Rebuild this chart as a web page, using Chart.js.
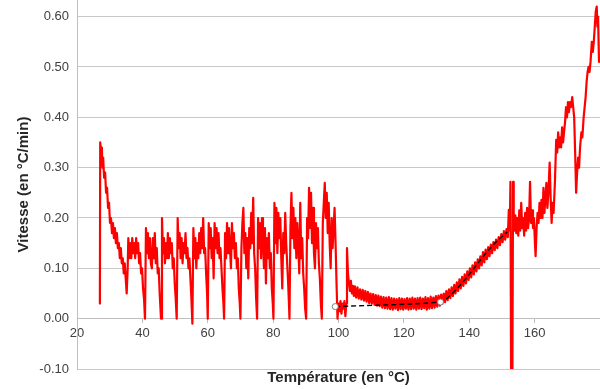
<!DOCTYPE html>
<html>
<head>
<meta charset="utf-8">
<script src="https://cdn.jsdelivr.net/npm/chart.js@4.4.1/dist/chart.umd.min.js"></script>
<style>
  body { margin: 0; background: #fff; }
  #wrap { width: 600px; height: 389px; }
</style>
</head>
<body>
<div id="wrap"><canvas id="chartVitesse"></canvas></div>
<script>
// graduations
const ticksTemp = [20, 40, 60, 80, 100, 120, 140, 160];
const ticksVitesse = [-0.1, 0, 0.1, 0.2, 0.3, 0.4, 0.5, 0.6];

const temperature = [
  27.0, 27.1, 27.4, 27.6, 27.8, 28.0, 28.3, 28.6, 28.9, 29.2, 29.5, 29.8,
  30.1, 30.4, 30.7, 31.0, 31.3, 31.6, 31.9, 32.2, 32.5, 32.8, 33.1, 33.4,
  33.7, 34.0, 34.3, 34.6, 34.9, 35.2, 35.5, 35.7, 36.0, 36.3, 36.6, 36.9,
  37.2, 37.5, 37.8, 38.1, 38.4, 38.7, 39.0, 39.3, 39.6, 39.9, 40.2, 40.5,
  40.8, 41.1, 41.4, 41.7, 42.0, 42.3, 42.6, 42.9, 43.2, 43.5, 43.8, 44.1, 44.4, 44.7, 45.0, 45.3,
  45.7, 46.0, 46.3, 46.6, 46.9, 47.2, 47.5, 47.8, 48.1, 48.4, 48.7, 49.0, 49.3, 49.6, 49.9, 50.2,
  50.5, 50.8, 51.1, 51.4, 51.7, 52.0, 52.3, 52.6, 52.9, 53.2, 53.5, 53.8, 54.1, 54.4, 54.7, 55.0,
  55.3, 55.6, 55.9, 56.2, 56.5, 56.8, 57.1, 57.4, 57.7, 58.0, 58.3, 58.6, 58.9, 59.2, 59.5, 59.8,
  60.0, 60.3, 60.6, 60.9, 61.2, 61.5, 61.8, 62.1, 62.4, 62.7, 63.0, 63.3, 63.6, 63.9, 64.2, 64.5, 64.8,
  65.0, 65.3, 65.6, 65.9, 66.2, 66.5, 66.8, 67.1, 67.4, 67.7, 68.0, 68.3, 68.6, 68.9, 69.2, 69.5, 69.8,
  70.0, 70.3, 70.6, 70.9, 71.2, 71.5, 71.8, 72.1, 72.4, 72.7, 73.0, 73.3, 73.6, 73.9, 74.2, 74.5, 74.8,
  75.1, 75.4, 75.7, 76.0, 76.3, 76.6, 76.9, 77.2, 77.5, 77.8, 78.1, 78.4, 78.7, 79.0, 79.3, 79.6, 79.9,
  80.1, 80.4, 80.7, 81.0, 81.3, 81.6, 81.9, 82.2, 82.5, 82.8, 83.1, 83.4, 83.7, 84.0, 84.3, 84.6, 84.9,
  85.0, 85.3, 85.6, 85.9, 86.2, 86.5, 86.8, 87.1, 87.4, 87.7, 88.0, 88.3, 88.6, 88.9, 89.2, 89.5, 89.8,
  90.1, 90.4, 90.7, 91.0, 91.3, 91.6, 91.9, 92.2, 92.5, 92.8, 93.1, 93.4, 93.7, 94.0, 94.3, 94.6,
  94.9, 95.2, 95.5, 95.8, 96.1, 96.4, 96.7, 97.0, 97.3, 97.6, 97.9, 98.2, 98.5, 98.8, 99.1, 99.4,
  99.7, 100.0, 100.3, 100.6, 100.9, 101.2, 101.5, 101.8, 102.1, 102.4, 102.6, 102.9, 103.2, 103.5, 103.8, 104.1, 104.4, 104.7,
  105.0, 105.4, 105.8, 106.2, 106.6, 107.0, 107.4, 107.8, 108.2, 108.6,
  109.0, 109.4, 109.8, 110.2, 110.6, 111.0, 111.4, 111.8, 112.2, 112.6,
  113.0, 113.4, 113.8, 114.2, 114.6, 115.0, 115.4, 115.8, 116.2, 116.6,
  117.0, 117.4, 117.8, 118.2, 118.6, 119.0, 119.4, 119.8, 120.2, 120.6,
  121.0, 121.4, 121.8, 122.2, 122.6, 123.0, 123.4, 123.8, 124.2, 124.6,
  125.0, 125.4, 125.8, 126.2, 126.6, 127.0, 127.4, 127.8, 128.2, 128.6,
  129.0, 129.4, 129.8, 130.2, 130.6, 131.0, 131.4, 131.8, 132.2, 132.6,
  133.0, 133.4, 133.8, 134.2, 134.6, 135.0, 135.4, 135.8, 136.2, 136.6,
  137.0, 137.4, 137.8, 138.2, 138.6, 139.0, 139.4, 139.8, 140.2, 140.6,
  141.0, 141.4, 141.8, 142.2, 142.6, 143.0, 143.4, 143.8, 144.2, 144.6,
  145.0, 145.4, 145.8, 146.2, 146.6, 147.0, 147.4, 147.8, 148.2, 148.6,
  149.0, 149.4, 149.8, 150.2, 150.6, 151.0, 151.4, 151.8,
  152.1, 152.4, 152.6, 152.8, 153.2, 153.4, 153.6, 153.8, 154.1, 154.4,
  154.7, 155.0, 155.3, 155.6, 155.9, 156.2, 156.5, 156.8, 157.1, 157.4,
  157.7, 158.0, 158.3, 158.6, 158.9, 159.2, 159.5, 159.8, 160.1, 160.3,
  160.6, 160.9, 161.2, 161.5, 161.8, 162.1, 162.4, 162.7, 163.0, 163.3,
  163.6, 163.9, 164.2, 164.6, 164.9, 165.2, 165.5, 165.8, 166.2, 166.6,
  166.9, 167.2, 167.5, 167.8, 168.1, 168.4, 168.7, 169.0, 169.3, 169.6,
  169.9, 170.2, 170.5, 170.8, 171.1, 171.5, 171.8, 172.1, 172.4, 172.7,
  173.0, 173.3, 173.6, 173.9, 174.3, 174.6, 175.0, 175.3, 175.6, 175.9,
  176.2, 176.5, 176.8, 177.1, 177.5, 177.8, 178.1, 178.4, 178.7, 179.0,
  179.2, 179.4, 179.7
];
const vitesse = [
  0.03, 0.35, 0.33, 0.34, 0.30, 0.32, 0.28, 0.29, 0.25, 0.26, 0.22, 0.23,
  0.19, 0.20, 0.17, 0.19, 0.16, 0.18, 0.15, 0.17, 0.14, 0.15, 0.12, 0.14,
  0.11, 0.12, 0.09, 0.11, 0.08, 0.05, 0.10, 0.16, 0.12, 0.15, 0.12, 0.16,
  0.13, 0.15, 0.12, 0.16, 0.13, 0.15, 0.11, 0.13, 0.09, 0.10, 0.06, 0.04,
  0.00, 0.18, 0.13, 0.17, 0.12, 0.16, 0.11, 0.10, 0.16, 0.12, 0.17, 0.11, 0.14, 0.09, 0.10, 0.05,
  0.00, 0.20, 0.13, 0.16, 0.11, 0.15, 0.12, 0.17, 0.12, 0.16, 0.13, 0.15, 0.10, 0.12, 0.07, 0.04,
  0.00, 0.20, 0.14, 0.17, 0.12, 0.16, 0.11, 0.15, 0.13, 0.17, 0.12, 0.14, 0.10, 0.12, 0.08, 0.04,
  -0.01, 0.18, 0.12, 0.16, 0.10, 0.15, 0.12, 0.17, 0.13, 0.18, 0.14, 0.20, 0.13, 0.14, 0.09, 0.05,
  0.00, 0.19, 0.14, 0.18, 0.12, 0.16, 0.08, 0.19, 0.14, 0.18, 0.13, 0.17, 0.12, 0.14, 0.10, 0.06, 0.03,
  0.00, 0.17, 0.12, 0.19, 0.13, 0.18, 0.14, 0.10, 0.19, 0.14, 0.17, 0.12, 0.15, 0.10, 0.12, 0.06, 0.03,
  0.00, 0.14, 0.19, 0.22, 0.13, 0.17, 0.10, 0.16, 0.08, 0.18, 0.14, 0.21, 0.15, 0.24, 0.13, 0.10, 0.04,
  0.00, 0.20, 0.14, 0.19, 0.12, 0.20, 0.15, 0.10, 0.18, 0.07, 0.16, 0.12, 0.17, 0.10, 0.13, 0.06, 0.03,
  0.00, 0.23, 0.15, 0.22, 0.13, 0.21, 0.16, 0.20, 0.12, 0.06, 0.17, 0.13, 0.21, 0.15, 0.11, 0.07, 0.02,
  0.00, 0.18, 0.25, 0.16, 0.22, 0.14, 0.20, 0.12, 0.19, 0.15, 0.09, 0.23, 0.12, 0.16, 0.09, 0.06, 0.02,
  0.00, 0.20, 0.16, 0.26, 0.18, 0.25, 0.15, 0.22, 0.13, 0.10, 0.19, 0.14, 0.18, 0.11, 0.08, 0.03,
  0.00, 0.19, 0.23, 0.27, 0.20, 0.25, 0.17, 0.23, 0.15, 0.10, 0.20, 0.14, 0.18, 0.22, 0.15, 0.07,
  0.00, 0.03, 0.015, 0.035, 0.01, 0.03, 0.02, 0.035, 0.005, 0.03, 0.14, 0.09, 0.07, 0.055, 0.075, 0.05, 0.065, 0.045,
  0.064, 0.042, 0.062, 0.040, 0.058, 0.038, 0.057, 0.036, 0.055, 0.034,
  0.053, 0.031, 0.050, 0.030, 0.049, 0.028, 0.047, 0.026, 0.046, 0.025,
  0.044, 0.022, 0.043, 0.021, 0.042, 0.020, 0.043, 0.019, 0.041, 0.018,
  0.040, 0.020, 0.039, 0.017, 0.041, 0.019, 0.040, 0.018, 0.039, 0.020,
  0.041, 0.018, 0.040, 0.019, 0.042, 0.020, 0.040, 0.018, 0.041, 0.020,
  0.042, 0.019, 0.040, 0.021, 0.043, 0.018, 0.041, 0.020, 0.044, 0.021,
  0.042, 0.022, 0.045, 0.024, 0.046, 0.026, 0.048, 0.030, 0.050, 0.033,
  0.055, 0.037, 0.058, 0.041, 0.062, 0.045, 0.067, 0.050, 0.072, 0.055,
  0.078, 0.060, 0.083, 0.065, 0.088, 0.070, 0.094, 0.077, 0.100, 0.082,
  0.106, 0.088, 0.112, 0.094, 0.118, 0.100, 0.124, 0.106, 0.132, 0.112,
  0.137, 0.118, 0.142, 0.124, 0.147, 0.130, 0.152, 0.136, 0.157, 0.140,
  0.162, 0.146, 0.168, 0.152, 0.174, 0.157, 0.178, 0.162,
  0.216, 0.175, 0.272, -0.12, -0.12, 0.272, 0.19, 0.175, 0.205, 0.17,
  0.20, 0.165, 0.215, 0.175, 0.23, 0.18, 0.20, 0.165, 0.21, 0.175,
  0.22, 0.18, 0.20, 0.272, 0.19, 0.215, 0.18, 0.20, 0.15, 0.124,
  0.18, 0.21, 0.19, 0.23, 0.20, 0.236, 0.20, 0.26, 0.21, 0.24,
  0.27, 0.22, 0.25, 0.31, 0.24, 0.19, 0.23, 0.21, 0.27, 0.355,
  0.33, 0.37, 0.34, 0.36, 0.34, 0.38, 0.35, 0.37, 0.39, 0.42,
  0.40, 0.43, 0.41, 0.43, 0.42, 0.44, 0.42, 0.40, 0.33, 0.25,
  0.29, 0.32, 0.30, 0.34, 0.37, 0.36, 0.40, 0.42, 0.44, 0.47,
  0.49, 0.50, 0.49, 0.51, 0.55, 0.53, 0.55, 0.58, 0.61, 0.62,
  0.58, 0.60, 0.51
];

// courbe de tendance (pointillés noirs)
const trendTemp = [99.0, 131.2, 134, 137, 140, 143, 146, 149, 151.6];
const trendVitesse = [0.024, 0.033, 0.045, 0.065, 0.088, 0.113, 0.137, 0.157, 0.172];
const trendMarkers = [3, 3, 0, 0, 0, 0, 0, 0, 0];

const tickFont = { family: '"Liberation Sans", Arial, sans-serif', size: 13 };
const titleFont = { family: '"Liberation Sans", Arial, sans-serif', size: 15, weight: 'bold' };

new Chart(document.getElementById('chartVitesse'), {
    type: 'line',
    data: {
        datasets: [
            {
                data: trendTemp.map((t, i) => ({ x: t, y: trendVitesse[i] })),
                borderColor: '#000000',
                borderWidth: 1.4,
                borderDash: [5, 3],
                pointRadius: trendMarkers,
                pointBackgroundColor: '#ffffff',
                pointBorderColor: '#808080',
                pointBorderWidth: 1,
                tension: 0.3
            },
            {
                data: temperature.map((t, i) => ({ x: t, y: vitesse[i] })),
                borderColor: '#ff0000',
                borderWidth: 2.2,
                borderJoinStyle: 'round',
                borderCapStyle: 'round',
                pointRadius: 0,
                tension: 0
            }
        ]
    },
    options: {
        responsive: true,
        maintainAspectRatio: false,
        animation: false,
        layout: { padding: 0, autoPadding: false },
        plugins: { legend: { display: false }, tooltip: { enabled: false } },
        scales: {
            x: {
                type: 'linear',
                min: 20,
                max: 180,
                position: { y: 0 },
                afterBuildTicks: (s) => { s.ticks = ticksTemp.map(v => ({ value: v })); },
                afterFit: (s) => { s.paddingLeft = 0; s.paddingRight = 0; },
                grid: { drawOnChartArea: false, drawTicks: true, tickLength: 4, color: '#bfbfbf' },
                border: { color: '#bfbfbf' },
                ticks: { color: '#404040', font: tickFont, padding: 3, maxRotation: 0, autoSkip: false }
            },
            xTitre: {
                type: 'linear',
                min: 20,
                max: 180,
                position: 'bottom',
                afterFit: (s) => { s.height = 20; s.paddingLeft = 0; s.paddingRight = 0; },
                ticks: { display: false },
                grid: { display: false },
                border: { display: false },
                title: {
                    display: true,
                    text: 'Température (en °C)',
                    color: '#262626',
                    font: titleFont,
                    padding: { top: 0, bottom: 2 }
                }
            },
            y: {
                min: -0.1,
                max: 0.633,
                afterBuildTicks: (s) => { s.ticks = ticksVitesse.map(v => ({ value: v })); },
                afterFit: (s) => { s.width = 77; s.paddingTop = 0; s.paddingBottom = 0; },
                grid: { color: '#c8c8c8', drawTicks: false },
                border: { color: '#bfbfbf' },
                ticks: {
                    color: '#404040',
                    font: tickFont,
                    padding: 8,
                    callback: (v) => v.toFixed(2)
                },
                title: {
                    display: true,
                    text: 'Vitesse (en °C/min)',
                    color: '#262626',
                    font: titleFont,
                    padding: { top: 15, bottom: 0 }
                }
            }
        }
    }
});
</script>
</body>
</html>
